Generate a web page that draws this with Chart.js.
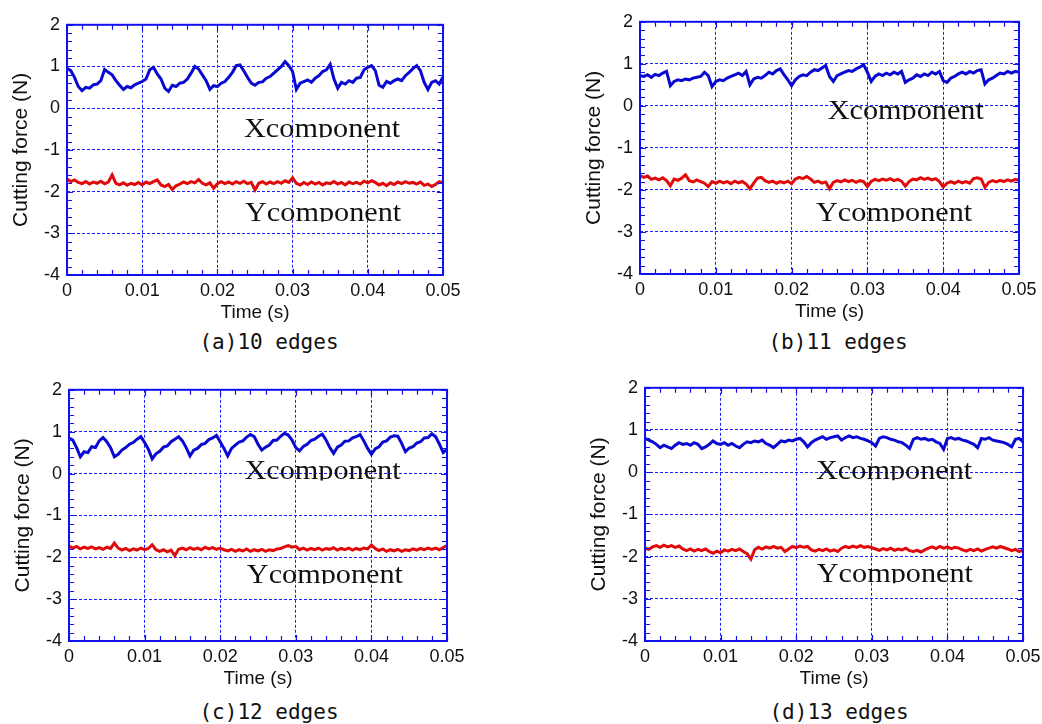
<!DOCTYPE html>
<html>
<head>
<meta charset="utf-8">
<script src="https://cdn.jsdelivr.net/npm/chart.js@4.4.1/dist/chart.umd.min.js"></script>
<style>
  html, body { margin: 0; padding: 0; background: #fff; }
  #page { position: relative; width: 1042px; height: 724px; overflow: hidden; }
  #page canvas { position: absolute; }
  .cap {
    position: absolute;
    font-family: "DejaVu Sans Mono", monospace;
    font-size: 21px;
    color: #111;
    white-space: nowrap;
    transform: translate(-50%, -50%);
  }
</style>
</head>
<body>
<div id="page"></div>
<script>
// sample times (s): one reading every 0.5 ms from 0 to 0.05 s
const sampleStep = 0.0005;
const sampleCount = 101;
const timeS = Array.from({ length: sampleCount }, (_, i) => +(i * sampleStep).toFixed(4));

const xTickValues = [0, 0.01, 0.02, 0.03, 0.04, 0.05];
const yTickValues = [-4, -3, -2, -1, 0, 1, 2];

// (a) 10 edges
const xForce10 = [
  0.96, 0.90, 0.74, 0.52, 0.42, 0.50, 0.48, 0.56, 0.58, 0.66,
  0.93, 0.86, 0.80, 0.66, 0.55, 0.45, 0.52, 0.49, 0.56, 0.60,
  0.64, 0.70, 0.92, 0.98, 0.82, 0.70, 0.48, 0.40, 0.55, 0.52,
  0.60, 0.62, 0.70, 0.84, 1.00, 0.94, 0.80, 0.66, 0.45, 0.54,
  0.52, 0.60, 0.64, 0.74, 0.86, 1.02, 1.04, 0.90, 0.74, 0.60,
  0.55, 0.62, 0.63, 0.72, 0.76, 0.84, 0.92, 1.00, 1.12, 1.02,
  0.88, 0.45, 0.60, 0.64, 0.68, 0.62, 0.72, 0.78, 0.88, 0.92,
  1.05, 0.70, 0.48, 0.62, 0.58, 0.66, 0.62, 0.72, 0.74, 0.92,
  0.98, 1.02, 0.90, 0.55, 0.50, 0.64, 0.60, 0.66, 0.70, 0.66,
  0.78, 0.86, 0.95, 1.02, 0.90, 0.62, 0.45, 0.62, 0.66, 0.58,
  0.75
];
const yForce10 = [
  -1.70, -1.76, -1.72, -1.78, -1.81, -1.76, -1.82, -1.77, -1.80, -1.75,
  -1.81, -1.77, -1.60, -1.80, -1.84, -1.79, -1.85, -1.80, -1.83, -1.78,
  -1.84, -1.77, -1.81, -1.76, -1.72, -1.84, -1.88, -1.83, -1.95, -1.86,
  -1.82, -1.77, -1.81, -1.76, -1.79, -1.71, -1.80, -1.84, -1.79, -1.92,
  -1.81, -1.76, -1.81, -1.77, -1.82, -1.76, -1.80, -1.75, -1.81, -1.78,
  -1.96, -1.80, -1.76, -1.82, -1.77, -1.81, -1.76, -1.80, -1.74, -1.78,
  -1.67, -1.80, -1.84, -1.78, -1.83, -1.77, -1.82, -1.78, -1.84, -1.79,
  -1.81, -1.76, -1.82, -1.78, -1.84, -1.77, -1.81, -1.78, -1.82, -1.75,
  -1.79, -1.74, -1.78, -1.84, -1.80, -1.86, -1.79, -1.83, -1.77, -1.81,
  -1.76, -1.80, -1.78, -1.82, -1.77, -1.85, -1.82, -1.88, -1.83, -1.76,
  -1.79
];

// (b) 11 edges
const xForce11 = [
  0.72, 0.70, 0.74, 0.68, 0.75, 0.72, 0.78, 0.82, 0.48, 0.58,
  0.62, 0.60, 0.64, 0.62, 0.66, 0.68, 0.70, 0.80, 0.72, 0.46,
  0.58, 0.62, 0.60, 0.66, 0.70, 0.74, 0.78, 0.72, 0.82, 0.50,
  0.64, 0.68, 0.66, 0.72, 0.80, 0.76, 0.84, 0.88, 0.74, 0.62,
  0.48, 0.62, 0.70, 0.74, 0.72, 0.80, 0.86, 0.84, 0.90, 0.96,
  0.70, 0.58, 0.72, 0.76, 0.80, 0.84, 0.82, 0.88, 0.92, 0.98,
  0.80, 0.58, 0.70, 0.76, 0.72, 0.78, 0.74, 0.80, 0.76, 0.82,
  0.56, 0.62, 0.66, 0.74, 0.70, 0.76, 0.72, 0.80, 0.76, 0.82,
  0.60, 0.56, 0.66, 0.70, 0.76, 0.80, 0.76, 0.82, 0.78, 0.84,
  0.86, 0.52, 0.62, 0.66, 0.72, 0.78, 0.76, 0.82, 0.78, 0.82,
  0.80
];
const yForce11 = [
  -1.66, -1.70, -1.67, -1.75, -1.72, -1.76, -1.71, -1.78, -1.90, -1.74,
  -1.77, -1.72, -1.64, -1.78, -1.81, -1.76, -1.80, -1.84, -1.92, -1.80,
  -1.84, -1.79, -1.83, -1.80, -1.85, -1.79, -1.83, -1.80, -1.86, -1.97,
  -1.84, -1.72, -1.70, -1.78, -1.82, -1.79, -1.84, -1.80, -1.83, -1.79,
  -1.85, -1.74, -1.70, -1.73, -1.68, -1.74, -1.82, -1.79, -1.84, -1.81,
  -1.97, -1.82, -1.78, -1.81, -1.76, -1.80, -1.77, -1.82, -1.78, -1.80,
  -1.92, -1.80, -1.75, -1.78, -1.74, -1.77, -1.73, -1.78, -1.75, -1.79,
  -1.91, -1.80, -1.74, -1.76, -1.71, -1.75, -1.72, -1.76, -1.73, -1.80,
  -1.93, -1.84, -1.80, -1.84, -1.79, -1.83, -1.80, -1.84, -1.73, -1.71,
  -1.74, -1.94, -1.82, -1.78, -1.81, -1.77, -1.80, -1.76, -1.79, -1.75,
  -1.77
];

// (c) 12 edges
const xForce12 = [
  0.85, 0.80, 0.62, 0.40, 0.52, 0.50, 0.64, 0.62, 0.78, 0.86,
  0.76, 0.62, 0.40, 0.46, 0.56, 0.62, 0.70, 0.74, 0.82, 0.88,
  0.74, 0.58, 0.35, 0.47, 0.53, 0.63, 0.66, 0.76, 0.82, 0.88,
  0.78, 0.62, 0.42, 0.56, 0.60, 0.69, 0.72, 0.81, 0.85, 0.91,
  0.76, 0.60, 0.42, 0.60, 0.68, 0.75, 0.78, 0.87, 0.93, 0.88,
  0.70, 0.56, 0.63, 0.68, 0.79, 0.80, 0.89, 0.96, 0.92, 0.80,
  0.62, 0.54, 0.65, 0.70, 0.79, 0.82, 0.89, 0.94, 0.80, 0.62,
  0.48, 0.63, 0.68, 0.77, 0.78, 0.85, 0.88, 0.93, 0.78, 0.60,
  0.46, 0.59, 0.64, 0.75, 0.78, 0.87, 0.90, 0.89, 0.72, 0.52,
  0.61, 0.64, 0.73, 0.76, 0.85, 0.86, 0.95, 0.88, 0.70, 0.50,
  0.58
];
const yForce12 = [
  -1.73, -1.78, -1.74, -1.80, -1.76, -1.79, -1.75, -1.80, -1.77, -1.81,
  -1.76, -1.79, -1.66, -1.78, -1.83, -1.79, -1.84, -1.80, -1.83, -1.78,
  -1.82, -1.79, -1.70, -1.82, -1.86, -1.82, -1.87, -1.83, -1.96, -1.81,
  -1.78, -1.82, -1.77, -1.81, -1.78, -1.82, -1.76, -1.80, -1.77, -1.81,
  -1.78, -1.82, -1.85, -1.81, -1.86, -1.82, -1.85, -1.80, -1.86, -1.82,
  -1.85, -1.81, -1.86, -1.82, -1.84, -1.80, -1.79, -1.75, -1.72, -1.76,
  -1.74, -1.82, -1.78, -1.83, -1.79, -1.82, -1.78, -1.83, -1.79, -1.81,
  -1.77, -1.83, -1.79, -1.82, -1.78, -1.83, -1.79, -1.82, -1.78, -1.80,
  -1.71, -1.79, -1.84, -1.80, -1.86, -1.82, -1.85, -1.81, -1.86, -1.82,
  -1.84, -1.80, -1.83, -1.79, -1.82, -1.78, -1.81, -1.78, -1.82, -1.77,
  -1.72
];

// (d) 13 edges
const xForce13 = [
  0.80, 0.76, 0.72, 0.66, 0.58, 0.64, 0.60, 0.56, 0.64, 0.70,
  0.66, 0.68, 0.64, 0.70, 0.66, 0.56, 0.60, 0.66, 0.74, 0.68,
  0.66, 0.70, 0.64, 0.68, 0.62, 0.58, 0.66, 0.72, 0.70, 0.74,
  0.72, 0.76, 0.68, 0.64, 0.58, 0.66, 0.74, 0.72, 0.76, 0.74,
  0.78, 0.80, 0.72, 0.60, 0.70, 0.76, 0.80, 0.84, 0.78, 0.82,
  0.84, 0.86, 0.76, 0.82, 0.86, 0.82, 0.84, 0.80, 0.78, 0.74,
  0.70, 0.62, 0.80, 0.84, 0.82, 0.78, 0.76, 0.72, 0.70, 0.64,
  0.56, 0.78, 0.82, 0.78, 0.80, 0.76, 0.78, 0.72, 0.68, 0.54,
  0.80, 0.82, 0.78, 0.80, 0.76, 0.74, 0.70, 0.66, 0.58, 0.80,
  0.78, 0.82, 0.76, 0.74, 0.72, 0.70, 0.66, 0.60, 0.78, 0.80,
  0.72
];
const yForce13 = [
  -1.80, -1.83, -1.77, -1.74, -1.78, -1.73, -1.77, -1.74, -1.78, -1.75,
  -1.82, -1.86, -1.82, -1.87, -1.83, -1.86, -1.82, -1.88, -1.92, -1.87,
  -1.91, -1.84, -1.87, -1.83, -1.86, -1.82, -1.88, -1.93, -2.06, -1.84,
  -1.78, -1.82, -1.77, -1.80, -1.76, -1.80, -1.78, -1.88, -1.82, -1.76,
  -1.79, -1.75, -1.78, -1.76, -1.84, -1.87, -1.83, -1.86, -1.82, -1.87,
  -1.84, -1.88, -1.80, -1.76, -1.79, -1.75, -1.78, -1.74, -1.78, -1.76,
  -1.79, -1.82, -1.85, -1.81, -1.84, -1.80, -1.85, -1.82, -1.84, -1.80,
  -1.86, -1.88, -1.85, -1.89, -1.84, -1.80, -1.77, -1.81, -1.76, -1.80,
  -1.77, -1.81, -1.78, -1.80, -1.84, -1.87, -1.83, -1.86, -1.82, -1.87,
  -1.83, -1.80, -1.77, -1.80, -1.76, -1.79, -1.82, -1.86, -1.83, -1.88,
  -1.85
];

const FRAME_BLUE = "#1010f0";
const GRID_BLUE = "#1c1cff";
const X_COLOR = "#0808d0";
const Y_COLOR = "#e00a0a";

// plot area of every panel in page pixels, caption centre, in-plot label anchors (data units)
const panels = [
  { caption: "(a)10 edges", xs: xForce10, ys: yForce10, area: { l: 67, t: 22, r: 443, b: 275 },
    capAt: [269, 342], xLabel: [0.02354, -0.68], yLabel: [0.02367, -2.70] },
  { caption: "(b)11 edges", xs: xForce11, ys: yForce11, area: { l: 640, t: 19, r: 1019, b: 274 },
    capAt: [838, 342], xLabel: [0.02476, -0.31], yLabel: [0.02322, -2.74] },
  { caption: "(c)12 edges", xs: xForce12, ys: yForce12, area: { l: 69, t: 387, r: 447, b: 641 },
    capAt: [269, 712], xLabel: [0.0232, -0.14], yLabel: [0.02352, -2.61] },
  { caption: "(d)13 edges", xs: xForce13, ys: yForce13, area: { l: 645, t: 385, r: 1023, b: 641 },
    capAt: [839, 712], xLabel: [0.02262, -0.165], yLabel: [0.02272, -2.61] },
];

const Y_AXIS_W = 70;
const X_AXIS_H = 52;
const PAD_TOP = 15;
const PAD_RIGHT = 25;

// frame, inward minor/major ticks and the clipped component labels
const framePlugin = {
  id: "frame",
  afterDraw(chart, args, opts) {
    const { ctx, chartArea: a } = chart;
    const sx = chart.scales.x, sy = chart.scales.y;
    ctx.save();
    ctx.strokeStyle = FRAME_BLUE;
    ctx.lineWidth = 1.2;
    ctx.beginPath();
    for (let k = 0; k <= 25; k++) {
      const px = Math.round(sx.getPixelForValue(k * 0.002)) + 0.5;
      const len = k % 5 === 0 ? 6 : 5;
      ctx.moveTo(px, a.top); ctx.lineTo(px, a.top + len);
      ctx.moveTo(px, a.bottom); ctx.lineTo(px, a.bottom - len);
    }
    for (let k = 0; k <= 30; k++) {
      const py = Math.round(sy.getPixelForValue(-4 + k * 0.2)) + 0.5;
      const len = k % 5 === 0 ? 6 : 5;
      ctx.moveTo(a.left, py); ctx.lineTo(a.left + len, py);
      ctx.moveTo(a.right, py); ctx.lineTo(a.right - len, py);
    }
    ctx.stroke();
    ctx.lineWidth = 2;
    ctx.strokeRect(a.left, a.top, a.right - a.left, a.bottom - a.top);

    ctx.fillStyle = "#111";
    ctx.font = '28px "Liberation Serif", "Times New Roman", serif';
    ctx.textBaseline = "alphabetic";
    for (const lab of opts.labels || []) {
      const px = sx.getPixelForValue(lab.at[0]);
      const py = sy.getPixelForValue(lab.at[1]);
      ctx.save();
      ctx.beginPath();
      ctx.rect(px - 6, py - 40, 240, 41);
      ctx.clip();
      ctx.translate(px, py);
      ctx.scale(1.08, 1);
      ctx.fillText(lab.text, 0, 0);
      ctx.restore();
    }
    ctx.restore();
  },
};

const page = document.getElementById("page");
const tickFont = { family: '"Liberation Sans", Arial, sans-serif', size: 18 };

panels.forEach((p) => {
  const w = (p.area.r - p.area.l) + Y_AXIS_W + PAD_RIGHT;
  const h = (p.area.b - p.area.t) + PAD_TOP + X_AXIS_H;
  const canvas = document.createElement("canvas");
  canvas.width = w;
  canvas.height = h;
  canvas.style.left = (p.area.l - Y_AXIS_W) + "px";
  canvas.style.top = (p.area.t - PAD_TOP) + "px";
  canvas.style.width = w + "px";
  canvas.style.height = h + "px";
  page.appendChild(canvas);

  const cap = document.createElement("div");
  cap.className = "cap";
  cap.textContent = p.caption;
  cap.style.left = p.capAt[0] + "px";
  cap.style.top = p.capAt[1] + "px";
  page.appendChild(cap);

  new Chart(canvas.getContext("2d"), {
    type: "line",
    data: {
      datasets: [
        {
          label: "Xcomponent",
          data: timeS.map((t, i) => ({ x: t, y: p.xs[i] })),
          borderColor: X_COLOR,
          borderWidth: 3,
          pointRadius: 0,
          tension: 0,
        },
        {
          label: "Ycomponent",
          data: timeS.map((t, i) => ({ x: t, y: p.ys[i] })),
          borderColor: Y_COLOR,
          borderWidth: 3,
          pointRadius: 0,
          tension: 0,
        },
      ],
    },
    options: {
      responsive: false,
      animation: false,
      devicePixelRatio: 1,
      layout: { padding: { left: 0, top: PAD_TOP, right: PAD_RIGHT, bottom: 0 } },
      plugins: {
        legend: { display: false },
        tooltip: { enabled: false },
        frame: {
          labels: [
            { text: "Xcomponent", at: p.xLabel },
            { text: "Ycomponent", at: p.yLabel },
          ],
        },
      },
      scales: {
        x: {
          type: "linear",
          min: 0,
          max: 0.05,
          afterBuildTicks: (s) => { s.ticks = xTickValues.map((v) => ({ value: v })); },
          afterFit: (s) => { s.height = X_AXIS_H; },
          grid: { color: GRID_BLUE, lineWidth: 1, drawTicks: false },
          border: { display: false, dash: [3, 2] },
          ticks: {
            color: "#111",
            font: tickFont,
            padding: 5,
            maxRotation: 0,
            autoSkip: false,
            callback: (v) => String(+v.toFixed(2)),
          },
          title: {
            display: true,
            text: "Time (s)",
            color: "#111",
            font: { family: '"Liberation Sans", Arial, sans-serif', size: 19 },
            padding: { top: 0, bottom: 3 },
          },
        },
        y: {
          type: "linear",
          min: -4,
          max: 2,
          afterBuildTicks: (s) => { s.ticks = yTickValues.map((v) => ({ value: v })); },
          afterFit: (s) => { s.width = Y_AXIS_W; },
          grid: { color: GRID_BLUE, lineWidth: 1, drawTicks: false },
          border: { display: false, dash: [3, 2] },
          ticks: {
            color: "#111",
            font: tickFont,
            padding: 7,
            callback: (v) => String(v),
          },
          title: {
            display: true,
            text: "Cutting force (N)",
            color: "#111",
            font: { family: '"Liberation Sans", Arial, sans-serif', size: 21 },
            padding: { top: 12, bottom: 0 },
          },
        },
      },
    },
    plugins: [framePlugin],
  });
});
</script>
</body>
</html>
